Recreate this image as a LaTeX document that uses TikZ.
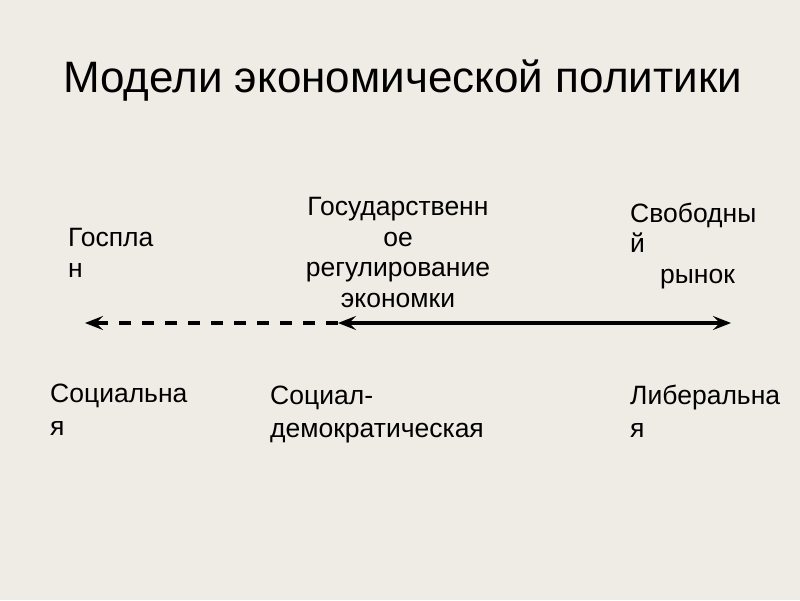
\documentclass[tikz,border=0pt]{standalone}
\usepackage{fontspec}
\setmainfont{Liberation Sans}
\usetikzlibrary{arrows.meta}
\definecolor{slidebg}{HTML}{EEECE4}
\tikzset{
  label text/.style={inner sep=0pt,anchor=base west,align=left,font=\fontsize{26.5}{30.5}\selectfont},
  model text/.style={inner sep=0pt,anchor=base west,align=left,font=\fontsize{26.5}{32.5}\selectfont},
}
\begin{document}
\begin{tikzpicture}[x=1pt,y=-1pt,>={Stealth[length=18pt,width=14pt,inset=7pt]}]
\fill[slidebg] (0,0) rectangle (800,600);
\useasboundingbox (0,0) rectangle (800,600);
\node [inner sep=0pt,anchor=base west,font=\fontsize{44}{50}\selectfont] (title) at (63,92) {Модели экономической политики};
% top labels (anchored at the baseline of the last line)
\node [label text] (gosplan) at (68,277) {Госпла\\н};
\node [label text,align=center,anchor=base] (gosreg) at (398,307) {Государственн\\ое\\регулирование\\экономки};
\node [label text] (svoboda) at (630,283) {Свободны\\й\\\hspace{30pt}рынок};
% axis
\coordinate (left) at (85,323);
\coordinate (mid) at (338,323);
\coordinate (right) at (731,323);
\draw [->,line width=3.2pt,dash pattern=on 12pt off 11pt] (mid) -- (left);
\draw [<->,line width=3.2pt] (mid) -- (right);
% models
\node [model text] (social) at (50,435) {Социальна\\я};
\node [model text] (socdem) at (270,437) {Социал-\\демократическая};
\node [model text] (liberal) at (630,437) {Либеральна\\я};
\end{tikzpicture}
\end{document}
